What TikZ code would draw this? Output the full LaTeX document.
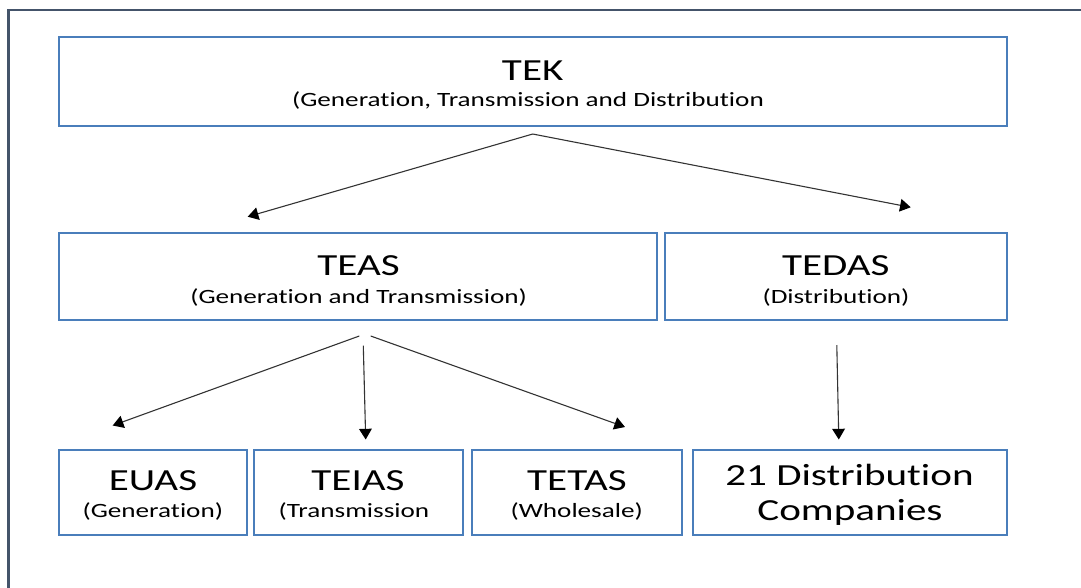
\documentclass[tikz,border=0pt]{standalone}
\usepackage{fontspec}
\setmainfont{Carlito}[FakeStretch=1.34,Ligatures=NoCommon]
\usetikzlibrary{arrows.meta}
\newlength\pxu
\setlength\pxu{0.75pt}
\definecolor{boxblue}{HTML}{4A7EBB}
\definecolor{framegray}{HTML}{44546A}
\definecolor{linegray}{HTML}{333333}

\begin{document}
\begin{tikzpicture}[x=0.75pt,y=-0.75pt,
  orgbox/.style={draw=boxblue,line width=2\pxu,inner sep=0pt},
  bigtext/.style={anchor=base,inner sep=0pt,font=\fontsize{23}{27}\selectfont},
  smalltext/.style={anchor=base,inner sep=0pt,font=\fontsize{15.2}{18}\selectfont},
  link/.style={draw=linegray,line width=1.1\pxu,-{Triangle[length=8pt,width=9.5pt,color=black]}}]
\useasboundingbox (0,0) rectangle (1081,587);
% outer frame
\draw[framegray,line width=2.2\pxu] (8.5,600) -- (8.5,10) -- (1090,10);

% boxes
\node[orgbox,minimum width=948\pxu,minimum height=88.5\pxu] (tek) at (532.7,81.25) {};
\node[orgbox,minimum width=598.6\pxu,minimum height=87.5\pxu] (teas) at (358,276.25) {};
\node[orgbox,minimum width=341.4\pxu,minimum height=87.5\pxu] (tedas) at (836,276.25) {};
\node[orgbox,minimum width=188\pxu,minimum height=85\pxu] (euas) at (152.5,492.5) {};
\node[orgbox,minimum width=208.7\pxu,minimum height=85\pxu] (teias) at (358.15,492.5) {};
\node[orgbox,minimum width=209.7\pxu,minimum height=85\pxu] (tetas) at (576.65,492.5) {};
\node[orgbox,minimum width=314.1\pxu,minimum height=85\pxu] (dist) at (849.95,492.5) {};

% texts
\node[bigtext] (tek title) at (532.7,80) {TEK};
\node[smalltext] (tek sub) at (528,106) {(Generation, Transmission and Distribution};
\node[bigtext] (teas title) at (358.6,275) {TEAS};
\node[smalltext] (teas sub) at (358.6,303) {(Generation and Transmission)};
\node[bigtext] (tedas title) at (835.8,275) {TEDAS};
\node[smalltext] (tedas sub) at (836,303) {(Distribution)};
\node[bigtext] (euas title) at (153,490.7) {EUAS};
\node[smalltext] (euas sub) at (152.8,517) {(Generation)};
\node[bigtext] (teias title) at (358,490.7) {TEIAS};
\node[smalltext] (teias sub) at (354,517) {(Transmission};
\node[bigtext] (tetas title) at (577,490.7) {TETAS};
\node[smalltext] (tetas sub) at (576.7,517) {(Wholesale)};
\node[bigtext] (dist top) at (849.5,485) {21 Distribution};
\node[bigtext] (dist bottom) at (850,520) {Companies};

% connector ends
\coordinate (tek fork) at (532.7,134);
\coordinate (teas in) at (247.7,216.7);
\coordinate (tedas in) at (910.7,207.3);
\coordinate (teas left) at (359.3,336);
\coordinate (teas mid) at (363.3,345.7);
\coordinate (teas right) at (370.7,336);
\coordinate (euas in) at (112.7,425.5);
\coordinate (teias in) at (365.7,439.5);
\coordinate (tetas in) at (625,427);
\coordinate (tedas out) at (836.8,345);
\coordinate (dist in) at (838.8,439.5);

% arrows
\draw[link] (tek fork) -- (teas in);
\draw[link] (tek fork) -- (tedas in);
\draw[link] (teas left) -- (euas in);
\draw[link] (teas mid) -- (teias in);
\draw[link] (teas right) -- (tetas in);
\draw[link] (tedas out) -- (dist in);
\end{tikzpicture}
\end{document}
